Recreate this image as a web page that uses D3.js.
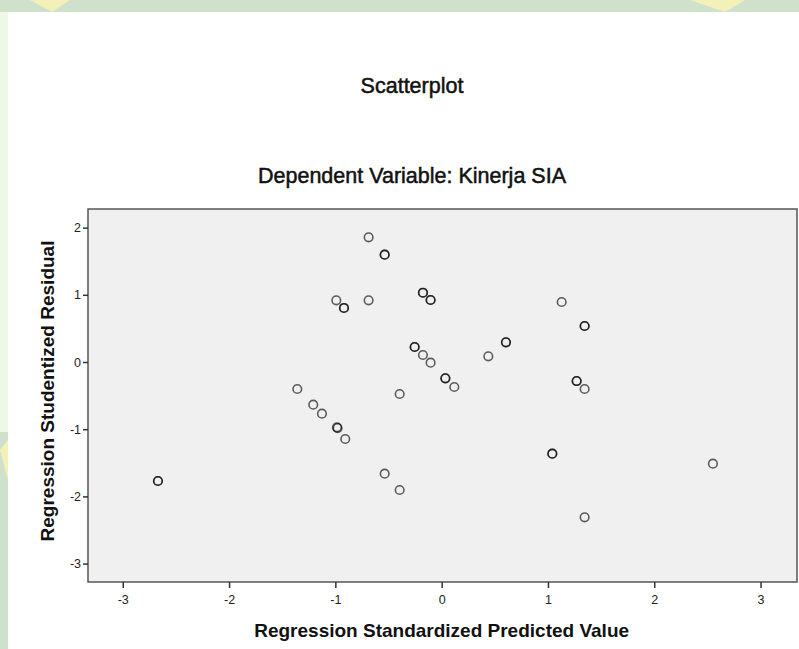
<!DOCTYPE html>
<html>
<head>
<meta charset="utf-8">
<script src="https://cdn.jsdelivr.net/npm/d3@7"></script>
<style>
  html, body { margin: 0; padding: 0; background: #d3e3cf; }
  svg { display: block; }
</style>
</head>
<body>
<div id="chart"></div>
<script>
// SPSS style residual scatterplot.
// dark rings in the picture are two cases on the same spot, so they appear twice here
const predicted = [
  -0.687, -0.536, -0.536, -0.991, -0.919, -0.919, -0.687,
  -0.176, -0.176, -0.104, -0.104, -0.254, -0.254, -0.176, -0.104,
  0.035, 0.035, -1.358, -0.395, 0.119, 0.439, 0.605, 0.605,
  1.129, 1.345, 1.345, 1.270, 1.270, 1.345,
  -1.208, -1.126, -0.985, -0.979, -0.907, -2.669, -2.669,
  -0.536, -0.395, 1.041, 1.041, 2.552, 1.345
];
const residual = [
  1.856, 1.597, 1.597, 0.918, 0.804, 0.804, 0.918,
  1.031, 1.031, 0.923, 0.923, 0.223, 0.223, 0.104, -0.010,
  -0.243, -0.243, -0.402, -0.476, -0.372, 0.085, 0.293, 0.293,
  0.893, 0.536, 0.536, -0.283, -0.283, -0.402,
  -0.635, -0.769, -0.972, -0.984, -1.146, -1.771, -1.771,
  -1.662, -1.905, -1.364, -1.364, -1.513, -2.311
];
const xTicks = [-3, -2, -1, 0, 1, 2, 3];
const yTicks = [-3, -2, -1, 0, 1, 2];

const chartTitle = "Scatterplot";
const chartSubtitle = "Dependent Variable: Kinerja SIA";
const xLabel = "Regression Standardized Predicted Value";
const yLabel = "Regression Studentized Residual";

const width = 799, height = 649;
const margin = {top: 209, right: 2, bottom: 67, left: 88};
const font = "Arial, 'Liberation Sans', sans-serif";

const svg = d3.select("#chart")
  .append("svg")
  .attr("width", width)
  .attr("height", height);

// background (scan watermark around the white page)
svg.append("rect")
  .attr("width", width).attr("height", height)
  .attr("fill", "#cfe0cb");
svg.append("rect")
  .attr("x", 0).attr("y", 12).attr("width", 8).attr("height", 420)
  .attr("fill", "#eef8e6");
svg.append("path")
  .attr("d", "M30,0 L70,0 L52,12 Z M690,0 L745,0 L725,12 Z M0,450 L8,440 L8,480 Z")
  .attr("fill", "#f3f0b8");
svg.append("rect")
  .attr("x", 8).attr("y", 12)
  .attr("width", width - 8).attr("height", height - 12)
  .attr("fill", "#ffffff");

const x = d3.scaleLinear()
  .domain([-3.327, 3.343])
  .range([margin.left, width - margin.right]);

const y = d3.scaleLinear()
  .domain([-3.274, 2.277])
  .range([height - margin.bottom, margin.top]);

// titles (scaled-up screenshot, so the text is a bit heavy)
[[chartTitle, 93], [chartSubtitle, 183]].forEach(([t, ty]) => {
  svg.append("text")
    .attr("x", 412).attr("y", ty)
    .attr("text-anchor", "middle")
    .style("font", "21.5px " + font)
    .attr("fill", "#111")
    .attr("stroke", "#111")
    .attr("stroke-width", 0.5)
    .text(t);
});

// plot area
svg.append("rect")
  .attr("x", x.range()[0])
  .attr("y", y.range()[1])
  .attr("width", x.range()[1] - x.range()[0])
  .attr("height", y.range()[0] - y.range()[1])
  .attr("fill", "#f0f0f0")
  .attr("stroke", "#555")
  .attr("stroke-width", 1.5);

// axes
const xAxis = svg.append("g")
  .attr("transform", `translate(0,${y.range()[0]})`)
  .call(d3.axisBottom(x).tickValues(xTicks).tickSize(6).tickPadding(7).tickFormat(d3.format("d")));

const yAxis = svg.append("g")
  .attr("transform", `translate(${x.range()[0]},0)`)
  .call(d3.axisLeft(y).tickValues(yTicks).tickSize(5).tickPadding(2).tickFormat(d3.format("d")));

[xAxis, yAxis].forEach(g => {
  g.select(".domain").remove();
  g.selectAll(".tick line").attr("stroke", "#333").attr("stroke-width", 1.5);
  g.selectAll(".tick text")
    .attr("fill", "#222")
    .style("font-family", font)
    .style("font-size", "12.5px");
});
// d3 uses a unicode minus, the picture has a plain hyphen
xAxis.selectAll(".tick text").text(d => String(d));
yAxis.selectAll(".tick text").text(d => String(d));

// axis titles
svg.append("text")
  .attr("x", x(0)).attr("y", 637)
  .attr("text-anchor", "middle")
  .style("font", "bold 19px " + font)
  .attr("fill", "#111")
  .text(xLabel);

svg.append("text")
  .attr("transform", "translate(54,391) rotate(-90)")
  .attr("text-anchor", "middle")
  .style("font", "bold 19px " + font)
  .attr("fill", "#111")
  .text(yLabel);

// points
const points = predicted.map((p, i) => ({p, r: residual[i]}));

svg.append("g")
  .selectAll("circle")
  .data(points)
  .join("circle")
  .attr("cx", d => x(d.p))
  .attr("cy", d => y(d.r))
  .attr("r", 4.3)
  .attr("fill", "none")
  .attr("stroke", "#000")
  .attr("stroke-opacity", 0.62)
  .attr("stroke-width", 1.6);
</script>
</body>
</html>
